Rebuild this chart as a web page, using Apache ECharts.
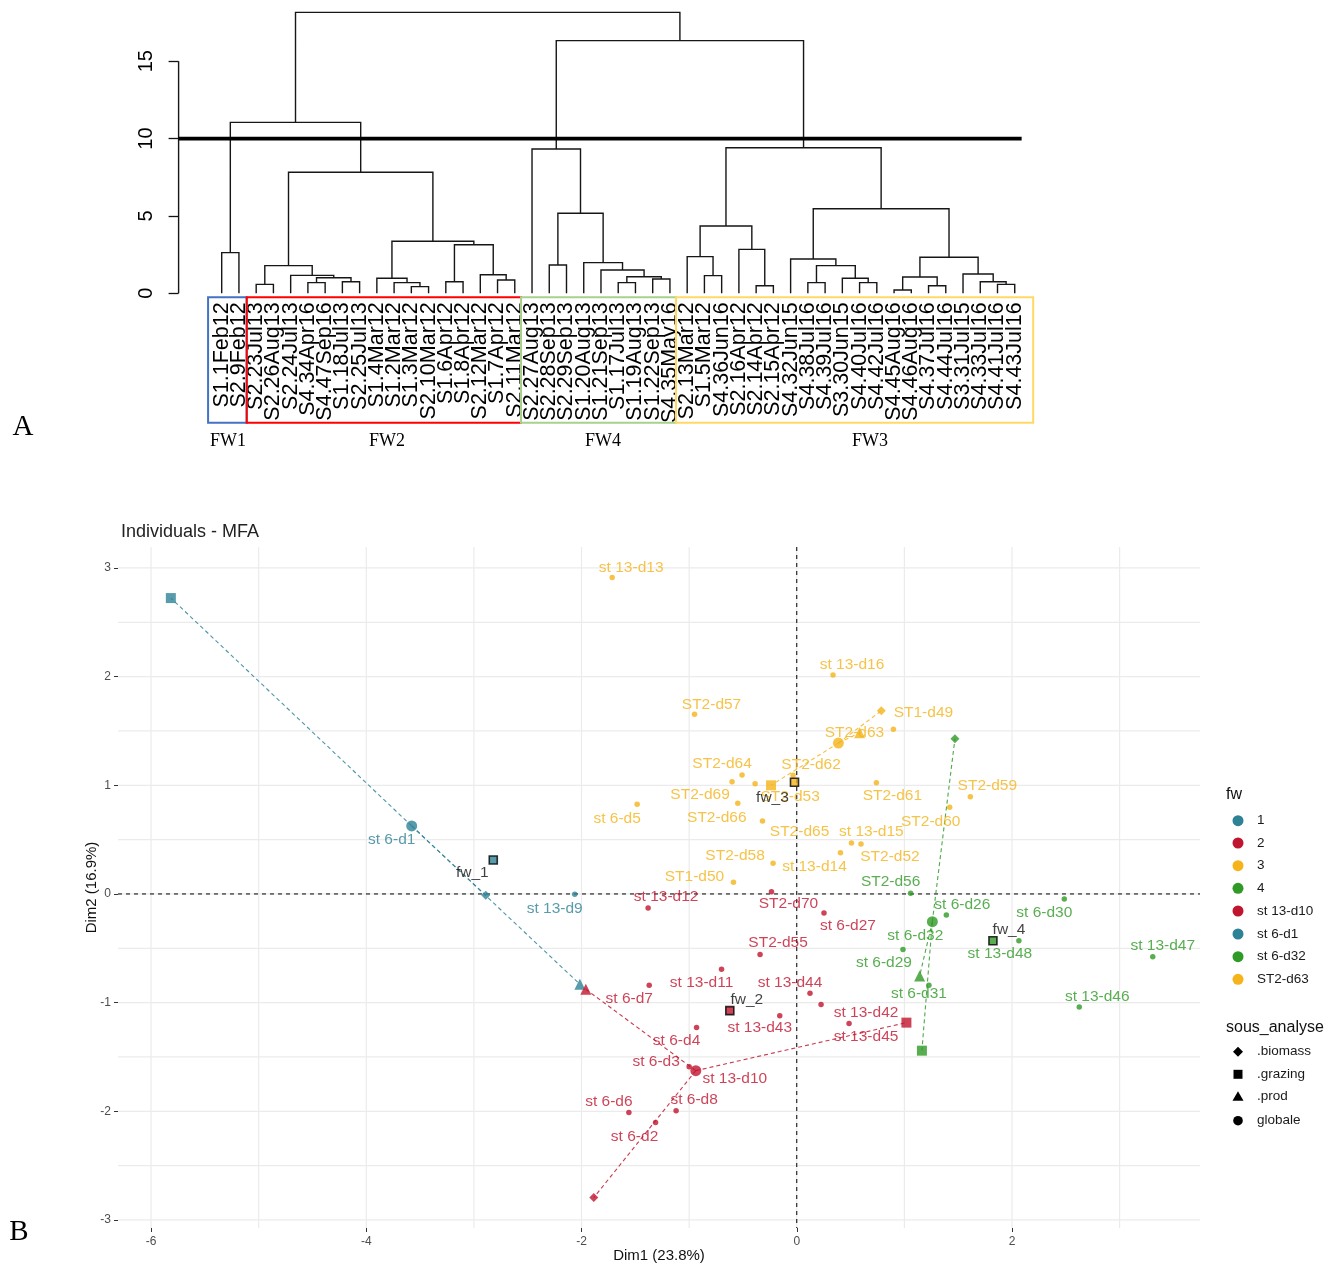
<!DOCTYPE html>
<html>
<head>
<meta charset="utf-8">
<script src="https://cdn.jsdelivr.net/npm/echarts@6.0.0/dist/echarts.min.js"></script>
<style>
html,body{margin:0;padding:0;background:#fff;}
#chart{width:1341px;height:1265px;}
</style>
</head>
<body>
<div id="chart"></div>
<script>
// ================= Panel A : dendrogram =================
const leafLabels = [
  'S1.1Feb12','S2.9Feb12',
  'S2.23Jul13','S2.26Aug13','S2.24Jul13','S4.34Apr16','S4.47Sep16','S1.18Jul13','S2.25Jul13',
  'S1.4Mar12','S1.2Mar12','S1.3Mar12','S2.10Mar12','S1.6Apr12','S1.8Apr12','S2.12Mar12','S1.7Apr12','S2.11Mar12',
  'S2.27Aug13','S2.28Sep13','S2.29Sep13','S1.20Aug13','S1.21Sep13','S1.17Jul13','S1.19Aug13','S1.22Sep13','S4.35May16',
  'S2.13Mar12','S1.5Mar12','S4.36Jun16','S2.16Apr12','S2.14Apr12','S2.15Apr12','S4.32Jun15','S4.38Jul16','S4.39Jul16',
  'S3.30Jun15','S4.40Jul16','S4.42Jul16','S4.45Aug16','S4.46Aug16','S4.37Jul16','S4.44Jul16','S3.31Jul15','S4.33Jul16',
  'S4.41Jul16','S4.43Jul16'
];
// hclust-style merges: negative = leaf (1-based), positive = earlier merge row (1-based); third = height
const merges = [
  [-1,-2,2.63],   [-3,-4,0.58],   [-6,-7,0.69],   [-8,-9,0.75],   [3,4,1.01],
  [-5,5,1.16],    [2,6,1.79],     [-12,-13,0.43], [-11,8,0.69],   [-10,9,0.97],
  [-14,-15,0.75], [-17,-18,0.86], [-16,12,1.20],  [11,13,3.14],   [10,14,3.36],
  [7,15,7.82],    [1,16,11.05],   [-20,-21,1.83], [-24,-25,0.69], [-26,-27,0.92],
  [19,20,1.07],   [-23,21,1.51],  [-22,22,1.98],  [18,23,5.17],   [-19,24,9.33],
  [-29,-30,1.14], [-28,26,2.37],  [-32,-33,0.49], [-31,28,2.84],  [27,29,4.35],
  [-35,-36,0.69], [-38,-39,0.69], [-37,32,0.97],  [31,33,1.79],   [-34,34,2.22],
  [-40,-41,0.21], [-42,-43,0.49], [36,37,1.05],   [-46,-47,0.58], [-45,39,0.75],
  [-44,40,1.25],  [38,41,2.33],   [35,42,5.47],   [30,43,9.41],   [25,44,16.33],
  [17,45,18.16]
];
const cutHeight = 10;
const yTicksA = [0, 5, 10, 15];
const fwGroupNames = ['FW1', 'FW2', 'FW4', 'FW3'];
const fwBoxColors = ['#4472C4', '#FF0000', '#A9D08E', '#FFD966'];

// ================= Panel B : MFA individuals =================
// [name, Dim1, Dim2]
const indFw1 = [['st 13-d9', -2.063, -0.003]];
const indFw2 = [
  ['st 6-d3', -1.000, -1.589], ['st 6-d4', -0.931, -1.230], ['st 6-d7', -1.371, -0.840],
  ['st 6-d6', -1.560, -2.012], ['st 6-d8', -1.121, -1.994], ['st 6-d2', -1.312, -2.104],
  ['st 13-d12', -1.381, -0.129], ['ST2-d70', -0.235, 0.021], ['st 6-d27', 0.253, -0.175],
  ['ST2-d55', -0.341, -0.558], ['st 13-d11', -0.699, -0.693], ['st 13-d44', 0.123, -0.914],
  ['st 13-d45', 0.226, -1.018], ['st 13-d42', 0.486, -1.193], ['st 13-d43', -0.158, -1.120]
];
const indFw3 = [
  ['st 13-d13', -1.715, 2.913], ['st 13-d16', 0.337, 2.015], ['ST2-d57', -0.950, 1.653],
  ['ST1-d49', 0.898, 1.515], ['ST2-d64', -0.508, 1.095], ['ST2-d53', -0.387, 1.015],
  ['ST2-d62', -0.034, 1.092], ['ST2-d69', -0.601, 1.033], ['ST2-d66', -0.548, 0.834],
  ['st 6-d5', -1.483, 0.825], ['ST2-d65', -0.318, 0.672], ['ST2-d61', 0.740, 1.024],
  ['ST2-d59', 1.613, 0.895], ['ST2-d60', 1.421, 0.798], ['st 13-d15', 0.508, 0.469],
  ['ST2-d52', 0.597, 0.460], ['st 13-d14', 0.406, 0.380], ['ST2-d58', -0.220, 0.282],
  ['ST1-d50', -0.588, 0.108]
];
const indFw4 = [
  ['ST2-d56', 1.058, 0.006], ['st 6-d26', 1.390, -0.193], ['st 6-d29', 0.987, -0.512],
  ['st 6-d31', 1.228, -0.840], ['st 13-d48', 2.064, -0.430], ['st 6-d30', 2.486, -0.046],
  ['st 13-d47', 3.308, -0.577], ['st 13-d46', 2.625, -1.040]
];
// partial individuals (group 1..4)
const partialNames = ['st 6-d1', 'st 13-d10', 'ST2-d63', 'st 6-d32'];
const globaleXY = [[-3.578, 0.626], [-0.938, -1.626], [0.387, 1.389], [1.260, -0.255]];
const biomassXY = [[-2.890, -0.012], [-1.886, -2.794], [0.786, 1.686], [1.470, 1.429]];
const grazingXY = [[-5.816, 2.723], [1.019, -1.184], [-0.239, 1.000], [1.163, -1.442]];
const prodXY    = [[-2.015, -0.831], [-1.960, -0.877], [0.585, 1.484], [1.142, -0.754]];
// supplementary category centres
const fwCenterNames = ['fw_1', 'fw_2', 'fw_3', 'fw_4'];
const fwCenterXY = [[-2.820, 0.313], [-0.622, -1.074], [-0.021, 1.028], [1.823, -0.430]];

const xTicksB = [-6, -4, -2, 0, 2];
const yTicksB = [-3, -2, -1, 0, 1, 2, 3];
const xGridB = [-6, -5, -4, -3, -2, -1, 0, 1, 2, 3];
const yGridB = [-3, -2.5, -2, -1.5, -1, -0.5, 0, 0.5, 1, 1.5, 2, 2.5, 3];
const fwLegendLabels = ['1', '2', '3', '4', 'st 13-d10', 'st 6-d1', 'st 6-d32', 'ST2-d63'];
const fwLegendGroup = [1, 2, 3, 4, 2, 1, 4, 3];
const shapeLegendLabels = ['.biomass', '.grazing', '.prod', 'globale'];

// ---------------- styling (kept apart from data) ----------------
const FONT = 'Liberation Sans, Arial, sans-serif';
const SERIF = 'Liberation Serif, Times New Roman, serif';
const grpColor = {1: '#2E8296', 2: '#C0152F', 3: '#F4B41A', 4: '#2F9A26'};
// label offsets in pixels (repel-like placement)
const labelShift = {
  'st 6-d1': [-20, 14], 'st 13-d9': [-20, 14], 'fw_1': [-21, 13],
  'st 13-d10': [39, 8], 'st 6-d3': [-33, -5], 'st 6-d4': [-20, 13], 'st 6-d7': [-20, 13],
  'st 6-d6': [-20, -11], 'st 6-d8': [18, -11], 'st 6-d2': [-21, 14], 'st 13-d12': [18, -11],
  'ST2-d70': [17, 12], 'st 6-d27': [24, 13], 'ST2-d55': [18, -12], 'st 13-d11': [-20, 13],
  'st 13-d44': [-20, -11], 'st 13-d45': [45, 32], 'st 13-d42': [17, -11], 'st 13-d43': [-20, 12],
  'fw_2': [17, -11],
  'st 13-d13': [19, -10], 'st 13-d16': [19, -10], 'ST2-d57': [17, -10], 'ST1-d49': [30, -17],
  'ST2-d63': [16, -10], 'ST2-d64': [-20, -11], 'ST2-d53': [35, 13], 'ST2-d62': [18, -11],
  'ST2-d69': [-32, 13], 'ST2-d66': [-21, 14], 'st 6-d5': [-20, 14], 'ST2-d65': [37, 11],
  'ST2-d61': [16, 13], 'ST2-d59': [17, -11], 'ST2-d60': [-19, 14], 'st 13-d15': [20, -11],
  'ST2-d52': [29, 13], 'st 13-d14': [-26, 14], 'ST2-d58': [-38, -8], 'ST1-d50': [-39, -6],
  'fw_3': [-22, 15],
  'st 6-d32': [-17, 14], 'ST2-d56': [-20, -12], 'st 6-d26': [16, -10], 'st 6-d29': [-19, 13],
  'st 6-d31': [-10, 8], 'st 13-d48': [-19, 13], 'st 6-d30': [-20, 14], 'st 13-d47': [10, -11],
  'st 13-d46': [18, -10], 'fw_4': [16, -11]
};

// ---------- dendrogram geometry from merge table ----------
const mergeX = [];
const dendroSegs = [];
function nodeX(r) { return r < 0 ? (-r - 1) : mergeX[r - 1]; }
function nodeH(r) { return r < 0 ? 0 : merges[r - 1][2]; }
merges.forEach((m, k) => {
  const xa = nodeX(m[0]), xb = nodeX(m[1]);
  mergeX[k] = (xa + xb) / 2;
  dendroSegs.push([xa, nodeH(m[0]), xb, nodeH(m[1]), m[2]]);
});
// group boxes (leaf-position units)
const fwBoxEdges = [-0.79, 1.45, 17.36, 26.35, 47.07];
const boxData = fwGroupNames.map((n, i) => [fwBoxEdges[i], fwBoxEdges[i + 1], i]);
const catData = [' ', '  '].concat(leafLabels).concat(['   ']);

// ---------- panel B series data ----------
function indItems(arr) {
  return arr.map(([n, x, y]) => ({name: n, value: [x, y], label: {offset: labelShift[n] || [0, -12]}}));
}
const partialLines = [];
partialNames.forEach((n, i) => {
  [grazingXY[i], biomassXY[i], prodXY[i]].forEach(p => {
    partialLines.push([globaleXY[i][0], globaleXY[i][1], p[0], p[1], i + 1]);
  });
});
const partialShapeItems = [];
partialNames.forEach((n, i) => {
  const c = grpColor[i + 1];
  partialShapeItems.push({value: biomassXY[i], symbol: 'diamond', symbolSize: 9, itemStyle: {color: c}});
  partialShapeItems.push({value: grazingXY[i], symbol: 'rect', symbolSize: 10, itemStyle: {color: c}});
  partialShapeItems.push({value: prodXY[i], symbol: 'triangle', symbolSize: 11, itemStyle: {color: c}});
});
const globaleItems = partialNames.map((n, i) => ({
  name: n, value: globaleXY[i], itemStyle: {color: grpColor[i + 1]},
  label: {offset: labelShift[n], color: grpColor[i + 1]}
}));
const centerItems = fwCenterNames.map((n, i) => ({
  name: n, value: fwCenterXY[i], itemStyle: {color: grpColor[i + 1]},
  label: {offset: labelShift[n]}
}));

function indSeries(arr, g) {
  return {
    type: 'scatter', xAxisIndex: 2, yAxisIndex: 1, z: 4,
    symbol: 'circle', symbolSize: 5.5,
    itemStyle: {color: grpColor[g]},
    label: {show: true, position: 'inside', formatter: '{b}', color: grpColor[g],
            fontSize: 15.5, fontFamily: FONT},
    data: indItems(arr)
  };
}

// ---------- legend graphics ----------
const legendEls = [];
legendEls.push({type: 'text', x: 1226, y: 795, style: {text: 'fw', fill: '#111', font: '16px ' + FONT, verticalAlign: 'middle'}});
const fwLegY = [820.7, 843, 865.7, 888.3, 911, 934, 956.7, 979.3];
fwLegendLabels.forEach((t, i) => {
  legendEls.push({type: 'circle', shape: {cx: 1238, cy: fwLegY[i], r: 5.5}, style: {fill: grpColor[fwLegendGroup[i]]}});
  legendEls.push({type: 'text', x: 1257, y: fwLegY[i], style: {text: t, fill: '#1a1a1a', font: '13.5px ' + FONT, verticalAlign: 'middle'}});
});
legendEls.push({type: 'text', x: 1226, y: 1027.7, style: {text: 'sous_analyse', fill: '#111', font: '16px ' + FONT, verticalAlign: 'middle'}});
const shY = [1051.7, 1074.3, 1096.7, 1120.7];
legendEls.push({type: 'polygon', shape: {points: [[1238, shY[0] - 5], [1243, shY[0]], [1238, shY[0] + 5], [1233, shY[0]]]}, style: {fill: '#000'}});
legendEls.push({type: 'rect', shape: {x: 1233.5, y: shY[1] - 4.5, width: 9, height: 9}, style: {fill: '#000'}});
legendEls.push({type: 'polygon', shape: {points: [[1238, shY[2] - 5.5], [1243.5, shY[2] + 4], [1232.5, shY[2] + 4]]}, style: {fill: '#000'}});
legendEls.push({type: 'circle', shape: {cx: 1238, cy: shY[3], r: 4.8}, style: {fill: '#000'}});
shapeLegendLabels.forEach((t, i) => {
  legendEls.push({type: 'text', x: 1257, y: shY[i], style: {text: t, fill: '#1a1a1a', font: '13.5px ' + FONT, verticalAlign: 'middle'}});
});
// panel letters and cluster names
legendEls.push({type: 'text', x: 23, y: 427, style: {text: 'A', fill: '#000', font: '29px ' + SERIF, align: 'center', verticalAlign: 'middle'}});
legendEls.push({type: 'text', x: 19, y: 1232, style: {text: 'B', fill: '#000', font: '29px ' + SERIF, align: 'center', verticalAlign: 'middle'}});
const fwNameX = [228, 387, 603, 870];
fwGroupNames.forEach((t, i) => {
  legendEls.push({type: 'text', x: fwNameX[i], y: 441, style: {text: t, fill: '#000', font: '18px ' + SERIF, align: 'center', verticalAlign: 'middle'}});
});

const chart = echarts.init(document.getElementById('chart'), null, {renderer: 'canvas'});
chart.setOption({
  animation: false,
  backgroundColor: '#fff',
  title: {
    text: 'Individuals - MFA', left: 116, top: 518,
    textStyle: {fontSize: 18, fontWeight: 'normal', color: '#222', fontFamily: FONT}
  },
  grid: [
    {left: 178.6, top: 7.1, width: 862, height: 286.2, containLabel: false, outerBoundsMode: 'none'},
    {left: 118, top: 547, width: 1082, height: 681, containLabel: false, outerBoundsMode: 'none'}
  ],
  xAxis: [
    {type: 'value', gridIndex: 0, position: 'top', min: -2.5, max: 47.5, show: false,
     axisLine: {onZero: false}},
    {type: 'category', gridIndex: 0, position: 'bottom', data: catData, boundaryGap: true,
     axisLine: {show: false, onZero: false}, axisTick: {show: false}, splitLine: {show: false},
     axisLabel: {interval: 0, rotate: 90, margin: 9, fontSize: 21.5, color: '#000', fontFamily: FONT,
                 formatter: v => v.trim()}},
    {type: 'value', gridIndex: 1, min: -6.307, max: 3.747,
     axisLine: {show: false, onZero: false}, splitLine: {show: false},
     axisTick: {show: true, length: 4, customValues: xTicksB, lineStyle: {color: '#333'}},
     axisLabel: {customValues: xTicksB, color: '#4d4d4d', fontSize: 12, margin: 8, fontFamily: FONT},
     name: 'Dim1 (23.8%)', nameLocation: 'middle', nameGap: 20.5, nameMoveOverlap: false,
     nameTextStyle: {fontSize: 15, color: '#111', fontFamily: FONT}}
  ],
  yAxis: [
    {type: 'value', gridIndex: 0, min: 0, max: 18.5,
     axisLine: {show: false, onZero: false}, splitLine: {show: false},
     axisTick: {show: true, length: 10, customValues: yTicksA, lineStyle: {color: '#111', width: 1.3}},
     axisLabel: {customValues: yTicksA, rotate: 90, margin: 22, fontSize: 20, color: '#000', fontFamily: FONT}},
    {type: 'value', gridIndex: 1, min: -3.074, max: 3.193,
     axisLine: {show: false, onZero: false}, splitLine: {show: false},
     axisTick: {show: true, length: 4, customValues: yTicksB, lineStyle: {color: '#333'}},
     axisLabel: {customValues: yTicksB, color: '#4d4d4d', fontSize: 12, margin: 7, fontFamily: FONT},
     name: 'Dim2 (16.9%)', nameLocation: 'middle', nameGap: 18.5, nameRotate: 90, nameMoveOverlap: false,
     nameTextStyle: {fontSize: 15, color: '#111', fontFamily: FONT}}
  ],
  graphic: {elements: legendEls},
  series: [
    // ---- dendrogram ----
    {
      type: 'custom', xAxisIndex: 0, yAxisIndex: 0, clip: false, silent: true,
      encode: {x: [0, 2], y: [1, 3, 4]},
      data: dendroSegs,
      renderItem: (params, api) => {
        const a0 = api.coord([api.value(0), api.value(1)]);
        const a1 = api.coord([api.value(0), api.value(4)]);
        const b1 = api.coord([api.value(2), api.value(4)]);
        const b0 = api.coord([api.value(2), api.value(3)]);
        return {type: 'polyline', shape: {points: [a0, a1, b1, b0]},
                style: {stroke: '#161616', lineWidth: 1.4, fill: null}};
      }
    },
    {
      type: 'line', xAxisIndex: 0, yAxisIndex: 0, symbol: 'none', silent: true,
      lineStyle: {color: '#161616', width: 1.4},
      data: [[-2.5, yTicksA[0]], [-2.5, yTicksA[yTicksA.length - 1]]]
    },
    {
      type: 'line', xAxisIndex: 0, yAxisIndex: 0, symbol: 'none', silent: true,
      lineStyle: {color: '#000', width: 3.6},
      data: [[-2.5, cutHeight], [46.4, cutHeight]]
    },
    {
      type: 'custom', xAxisIndex: 0, yAxisIndex: 0, clip: false, silent: true,
      encode: {x: [0, 1]},
      data: boxData,
      renderItem: (params, api) => {
        const p0 = api.coord([api.value(0), -0.26]);
        const p1 = api.coord([api.value(1), -8.36]);
        return {type: 'rect', shape: {x: p0[0], y: p0[1], width: p1[0] - p0[0], height: p1[1] - p0[1]},
                style: {stroke: fwBoxColors[api.value(2)], lineWidth: 2, fill: null}};
      }
    },
    // ---- panel B grid lines ----
    {
      type: 'custom', xAxisIndex: 2, yAxisIndex: 1, silent: true, z: 1,
      data: xGridB.map(v => [v, 0]), encode: {x: 0, y: 1},
      renderItem: (params, api) => {
        const cs = params.coordSys;
        const x = api.coord([api.value(0), 0])[0];
        return {type: 'line', shape: {x1: x, y1: cs.y, x2: x, y2: cs.y + cs.height},
                style: {stroke: '#ebebeb', lineWidth: 1.2}};
      }
    },
    {
      type: 'custom', xAxisIndex: 2, yAxisIndex: 1, silent: true, z: 1,
      data: yGridB.map(v => [0, v]), encode: {x: 0, y: 1},
      renderItem: (params, api) => {
        const cs = params.coordSys;
        const y = api.coord([0, api.value(1)])[1];
        return {type: 'line', shape: {x1: cs.x, y1: y, x2: cs.x + cs.width, y2: y},
                style: {stroke: '#ebebeb', lineWidth: 1.2}};
      }
    },
    // zero reference lines
    {
      type: 'custom', xAxisIndex: 2, yAxisIndex: 1, silent: true, z: 2,
      data: [[0, 0]], encode: {x: 0, y: 1},
      renderItem: (params, api) => {
        const cs = params.coordSys;
        const p = api.coord([0, 0]);
        return {type: 'group', children: [
          {type: 'line', shape: {x1: p[0], y1: cs.y, x2: p[0], y2: cs.y + cs.height},
           style: {stroke: '#000', lineWidth: 1, lineDash: [4, 4]}},
          {type: 'line', shape: {x1: cs.x, y1: p[1], x2: cs.x + cs.width, y2: p[1]},
           style: {stroke: '#000', lineWidth: 1, lineDash: [4, 4]}}
        ]};
      }
    },
    // partial dashed links
    {
      type: 'custom', xAxisIndex: 2, yAxisIndex: 1, silent: true, z: 3,
      data: partialLines, encode: {x: [0, 2], y: [1, 3]},
      renderItem: (params, api) => {
        const a = api.coord([api.value(0), api.value(1)]);
        const b = api.coord([api.value(2), api.value(3)]);
        return {type: 'line', shape: {x1: a[0], y1: a[1], x2: b[0], y2: b[1]},
                style: {stroke: grpColor[api.value(4)], lineWidth: 1.1, lineDash: [4, 3], opacity: 0.85}};
      }
    },
    indSeries(indFw1, 1),
    indSeries(indFw2, 2),
    indSeries(indFw3, 3),
    indSeries(indFw4, 4),
    {
      type: 'scatter', xAxisIndex: 2, yAxisIndex: 1, z: 5,
      data: partialShapeItems, label: {show: false}
    },
    {
      type: 'scatter', xAxisIndex: 2, yAxisIndex: 1, z: 5, symbol: 'circle', symbolSize: 11,
      label: {show: true, position: 'inside', formatter: '{b}', fontSize: 15.5, fontFamily: FONT},
      data: globaleItems
    },
    {
      type: 'scatter', xAxisIndex: 2, yAxisIndex: 1, z: 6, symbol: 'rect', symbolSize: 8,
      itemStyle: {borderColor: '#000', borderWidth: 1.6},
      label: {show: true, position: 'inside', formatter: '{b}', color: '#111', fontSize: 15.5, fontFamily: FONT},
      data: centerItems
    }
  ]
});
</script>
</body>
</html>
